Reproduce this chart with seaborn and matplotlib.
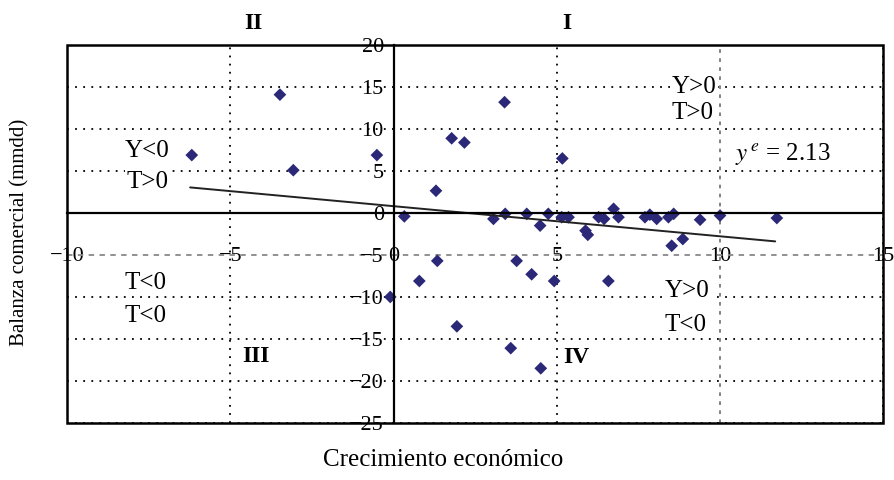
import numpy as np
import pandas as pd
import matplotlib
matplotlib.use("Agg")
import matplotlib.pyplot as plt
from matplotlib.patches import Rectangle
import seaborn as sns

# economic growth (x) vs trade balance (y)
growth = [-6.18, -3.48, -3.07, -0.51, 1.78, 2.17, 1.30, 0.33, 3.40, 5.17,
          3.06, 3.42, 4.08, 4.49, 4.74, 5.15, 5.36, 5.88, 5.95, 6.28,
          6.45, 6.74, 6.89, 7.70, 7.85, 8.06, 8.42, 8.58, 9.39, 10.00,
          11.74, 8.52, 8.86, 1.34, 3.77, 0.79, 4.23, 4.92, 6.58, -0.10,
          1.94, 3.59, 4.51]
balance = [6.9, 14.1, 5.1, 6.9, 8.9, 8.4, 2.65, -0.4, 13.2, 6.5,
           -0.7, -0.1, -0.1, -1.5, -0.1, -0.5, -0.5, -2.1, -2.6, -0.5,
           -0.7, 0.5, -0.5, -0.5, -0.2, -0.7, -0.5, -0.1, -0.8, -0.3,
           -0.6, -3.9, -3.1, -5.7, -5.7, -8.1, -7.3, -8.1, -8.1, -10.0,
           -13.5, -16.1, -18.5]

# fitted trend line endpoints
trend_x = [-6.23, 11.69]
trend_y = [3.05, -3.38]

x_ticks = [-10, -5, 0, 5, 10, 15]
y_ticks = [-25, -20, -15, -10, -5, 0, 5, 10, 15, 20]

# quadrant annotations: (x, y, text)
quad_names = [(-4.3, 22.6, "II"), (5.3, 22.6, "I"), (-4.2, -17.1, "III"), (5.6, -17.2, "IV")]
quad_signs = [(-7.55, 7.4, "Y<0"), (-7.55, 3.65, "T>0"),
              (-7.6, -8.3, "T<0"), (-7.6, -12.3, "T<0"),
              (9.2, 15.0, "Y>0"), (9.15, 11.9, "T>0"),
              (9.0, -9.25, "Y>0"), (8.95, -13.3, "T<0")]

sns.set_style("white")
plt.rcParams['font.family'] = ['Liberation Serif', 'DejaVu Serif']
plt.rcParams['mathtext.fontset'] = 'stix'
for key in ['text.color', 'axes.labelcolor', 'xtick.color', 'ytick.color']:
    plt.rcParams[key] = 'black'

df = pd.DataFrame({"crecimiento": growth, "balanza": balance})

fig, ax = plt.subplots(figsize=(8.94, 4.8), dpi=100)
fig.subplots_adjust(left=0.075, right=0.988, top=0.906, bottom=0.119)

sns.scatterplot(data=df, x="crecimiento", y="balanza", marker="D", s=42,
                color="#2b2878", edgecolor="none", zorder=3, ax=ax)
sns.lineplot(x=trend_x, y=trend_y, color="#222222", lw=1.4, zorder=4, ax=ax)

ax.set_xlim(-10, 15)
ax.set_ylim(-25, 20)
ax.set_xticks(x_ticks)
ax.set_yticks(y_ticks)

# axes crossing at the origin, plus a full frame
for side in ["left", "bottom"]:
    ax.spines[side].set_position(("data", 0))
    ax.spines[side].set_linewidth(1.6)
    ax.spines[side].set_color("black")
    ax.spines[side].set_zorder(5)
ax.spines["top"].set_visible(False)
ax.spines["right"].set_visible(False)
ax.add_patch(Rectangle((0, 0), 1, 1, transform=ax.transAxes, fill=False,
                       lw=1.8, ec="black", clip_on=False, zorder=6))

ax.tick_params(axis="y", direction="out", length=5, width=1, pad=2,
               labelsize=16, color="black", labelcolor="black")
ax.tick_params(axis="x", length=0, pad=31, labelsize=16, labelcolor="black")
plt.setp(ax.get_xticklabels(), va="center")

# dotted grid
ax.grid(True, color="black", linestyle=(0, (1, 3.5)), linewidth=1.3, zorder=1)
for i, v in enumerate(y_ticks):
    if v == -5:
        ax.get_ygridlines()[i].set_linestyle((0, (3, 3)))
        ax.get_ygridlines()[i].set_color("#888888")
for i, v in enumerate(x_ticks):
    if v == 10:
        ax.get_xgridlines()[i].set_linestyle((0, (2, 3)))
        ax.get_xgridlines()[i].set_color("#777777")

for x, y, t in quad_names:
    ax.text(x, y, t, fontsize=17, fontweight="bold", ha="center", va="center",
            clip_on=False, zorder=7)
for x, y, t in quad_signs:
    ax.text(x, y, t, fontsize=18, ha="center", va="center", zorder=7,
            bbox=dict(facecolor="white", edgecolor="none", pad=1))
ax.text(10.45, 7.0, r"$y^{\,e}$ = 2.13", fontsize=18, ha="left", va="center",
        zorder=7, bbox=dict(facecolor="white", edgecolor="none", pad=1))

ax.set_xlabel("Crecimiento económico", fontsize=18, va="center")
ax.xaxis.set_label_coords(0.461, -0.098)
ax.set_ylabel("Balanza comercial (mmdd)", fontsize=15, va="center", ha="center")
ax.yaxis.set_label_coords(-0.058, 0.503)

fig.savefig("out.png", dpi=100)
